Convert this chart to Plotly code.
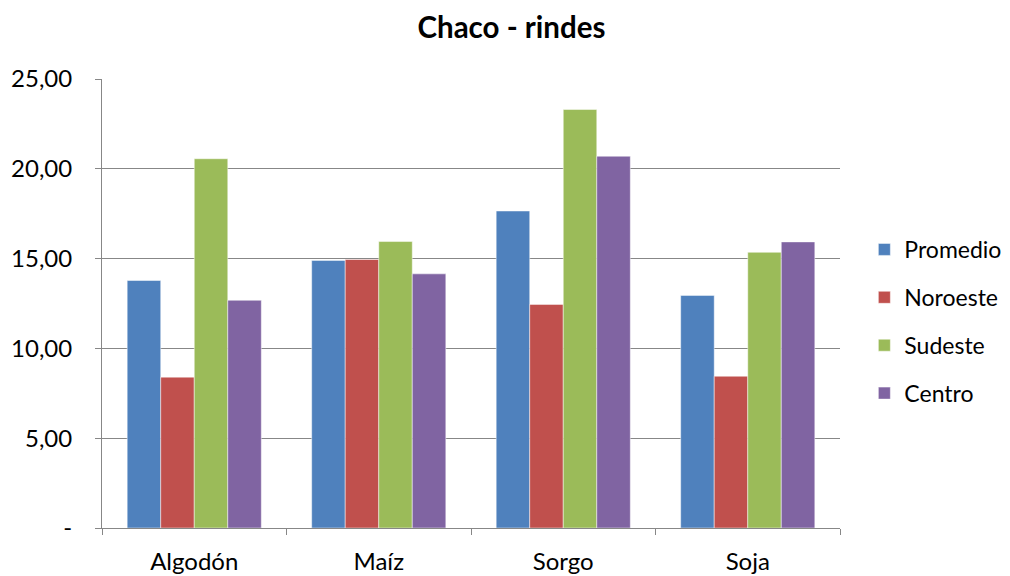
import plotly.graph_objects as go

categories = ["Algodón", "Maíz", "Sorgo", "Soja"]
series_names = ["Promedio", "Noroeste", "Sudeste", "Centro"]
promedio = [13.78, 14.90, 17.65, 12.95]
noroeste = [8.40, 14.95, 12.45, 8.45]
sudeste = [20.56, 15.95, 23.30, 15.35]
centro = [12.68, 14.15, 20.70, 15.93]
colors = ["#4F81BD", "#C0504D", "#9BBB59", "#8064A2"]
y_tickvals = [0, 5, 10, 15, 20, 25]
y_ticktext = ["-", "5,00", "10,00", "15,00", "20,00", "25,00"]

FONT = "Lato, Liberation Sans, sans-serif"
GRID = "#878787"

fig = go.Figure()
for name, vals, col in zip(series_names, [promedio, noroeste, sudeste, centro], colors):
    fig.add_trace(go.Bar(
        x=categories, y=vals, name=name, legendgroup=name,
        marker=dict(color=col, line=dict(color="rgba(255,255,255,0.6)", width=0.8)),
    ))

fig.update_layout(
    width=1010, height=576,
    margin=dict(l=94, r=178, t=71, b=56, autoexpand=False),
    paper_bgcolor="white", plot_bgcolor="white",
    barmode="group", bargap=0.273, bargroupgap=0,
    font=dict(family=FONT, size=24, color="#000000"),
    title=dict(text="<b>Chaco - rindes</b>", x=0.4985, xanchor="center",
               y=0.965, yanchor="middle", font=dict(family=FONT, size=29.5)),
    legend=dict(x=1.033, xanchor="left", y=0.46, yanchor="middle",
                font=dict(family=FONT, size=23), tracegroupgap=15,
                traceorder="grouped", itemwidth=30),
    showlegend=True,
)
fig.update_xaxes(
    showline=True, linecolor=GRID, linewidth=1,
    ticks="outside", tickson="boundaries", ticklen=6, tickcolor=GRID,
    showgrid=False, tickfont=dict(family=FONT, size=24),
    ticklabelstandoff=12, automargin=False,
)
fig.update_yaxes(
    range=[0, 25], tickvals=y_tickvals, ticktext=y_ticktext,
    showline=True, linecolor=GRID, linewidth=1,
    ticks="outside", ticklen=6, tickcolor=GRID,
    showgrid=True, gridcolor=GRID, gridwidth=1,
    zeroline=False, tickfont=dict(family=FONT, size=24),
    ticklabelstandoff=18, automargin=False,
)

fig.write_html("out.html")
